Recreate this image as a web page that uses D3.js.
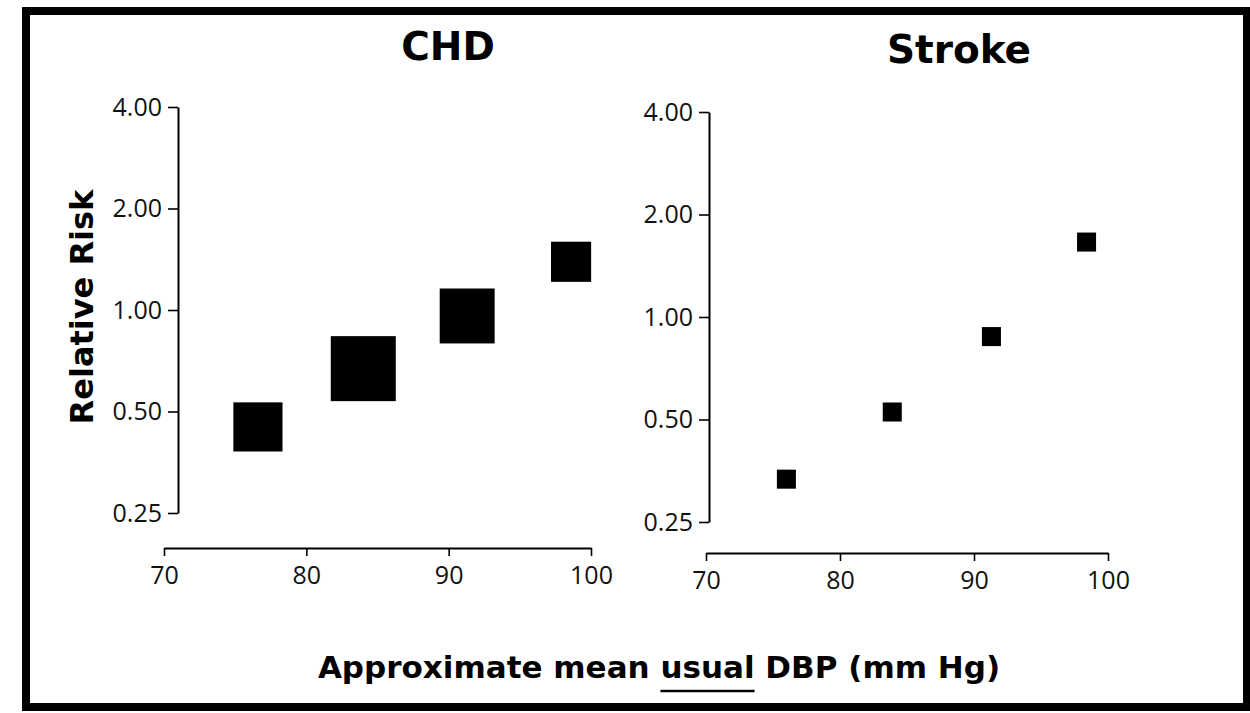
<!DOCTYPE html>
<html>
<head>
<meta charset="utf-8">
<script src="https://d3js.org/d3.v7.min.js"></script>
<style>
  body { margin: 0; background: #fff; }
  .tick text { font-family: "Open Sans", sans-serif; font-size: 25px; fill: #111; }
  .title { font-family: "DejaVu Sans", sans-serif; font-weight: bold; }
</style>
</head>
<body>
<div id="chart"></div>
<script>
// Approximate mean usual DBP (mm Hg) and relative risk
const chdDbp = [76.6, 84.0, 91.3, 98.6];
const chdRisk = [0.45, 0.67, 0.96, 1.39];
const chdWeight = [24, 42, 30, 16];

const strokeDbp = [76.0, 83.9, 91.3, 98.4];
const strokeRisk = [0.334, 0.526, 0.876, 1.66];
const strokeWeight = [3.6, 3.6, 3.6, 3.6];

const riskTicks = [0.25, 0.5, 1, 2, 4];
const dbpTicks = [70, 80, 90, 100];

const width = 1250, height = 713;

const svg = d3.select("#chart").append("svg")
    .attr("width", width)
    .attr("height", height);

// thick frame round the figure
svg.append("rect")
    .attr("x", 26).attr("y", 11)
    .attr("width", 1221).attr("height", 696)
    .attr("fill", "none")
    .attr("stroke", "#000")
    .attr("stroke-width", 8);

// square side from study weight
const size = d3.scaleSqrt().domain([0, 42]).range([0, 65]);

function panel(opts) {
    let x = d3.scaleLinear().domain([70, 100]).range(opts.xRange);
    let y = d3.scaleLog().base(2).domain([0.25, 4]).range(opts.yRange);

    let g = svg.append("g");

    // y axis
    let yAxis = g.append("g")
        .attr("transform", "translate(" + opts.yAxisX + ",0)")
        .call(d3.axisLeft(y)
            .tickValues(riskTicks)
            .tickFormat(d3.format(".2f"))
            .tickSize(10)
            .tickSizeOuter(0)
            .tickPadding(6));

    // x axis, set apart below the plot
    let xAxis = g.append("g")
        .attr("transform", "translate(0," + opts.xAxisY + ")")
        .call(d3.axisBottom(x)
            .tickValues(dbpTicks)
            .tickSize(8)
            .tickSizeOuter(0)
            .tickPadding(10));

    [yAxis, xAxis].forEach(a => {
        a.select(".domain").attr("stroke", "#000").attr("stroke-width", 2);
        a.selectAll(".tick line").attr("stroke", "#000").attr("stroke-width", 1.6);
    });

    // squares
    g.selectAll("rect.pt")
        .data(opts.dbp.map((d, i) => ({dbp: d, rr: opts.risk[i], w: opts.weight[i]})))
        .enter().append("rect")
        .attr("class", "pt")
        .attr("x", d => x(d.dbp) - size(d.w) / 2)
        .attr("y", d => y(d.rr) - size(d.w) / 2)
        .attr("width", d => size(d.w))
        .attr("height", d => size(d.w))
        .attr("fill", "#000");

    // panel title
    g.append("text")
        .attr("class", "title")
        .attr("x", opts.titleX)
        .attr("y", opts.titleY)
        .attr("text-anchor", "middle")
        .style("font-size", "39px")
        .text(opts.title);
}

panel({
    title: "CHD", titleX: 448, titleY: 60,
    xRange: [164, 591], yRange: [513, 107],
    yAxisX: 178, xAxisY: 548,
    dbp: chdDbp, risk: chdRisk, weight: chdWeight
});

panel({
    title: "Stroke", titleX: 959, titleY: 63,
    xRange: [706, 1108], yRange: [522, 112],
    yAxisX: 709, xAxisY: 553,
    dbp: strokeDbp, risk: strokeRisk, weight: strokeWeight
});

// y axis title
svg.append("text")
    .attr("class", "title")
    .attr("transform", "translate(93,307) rotate(-90)")
    .attr("text-anchor", "middle")
    .style("font-size", "32px")
    .text("Relative Risk");

// x axis title with "usual" underlined
let xTitle = svg.append("text")
    .attr("class", "title")
    .attr("x", 659).attr("y", 678)
    .attr("text-anchor", "middle")
    .style("font-size", "31px");
xTitle.append("tspan").text("Approximate mean ");
xTitle.append("tspan").text("usual");
xTitle.append("tspan").text(" DBP (mm Hg)");

let node = xTitle.node();
let start = "Approximate mean ".length;
let p0 = node.getStartPositionOfChar(start);
let p1 = node.getEndPositionOfChar(start + 4);
svg.append("line")
    .attr("x1", p0.x).attr("x2", p1.x)
    .attr("y1", 691).attr("y2", 691)
    .attr("stroke", "#000")
    .attr("stroke-width", 2.5);
</script>
</body>
</html>
